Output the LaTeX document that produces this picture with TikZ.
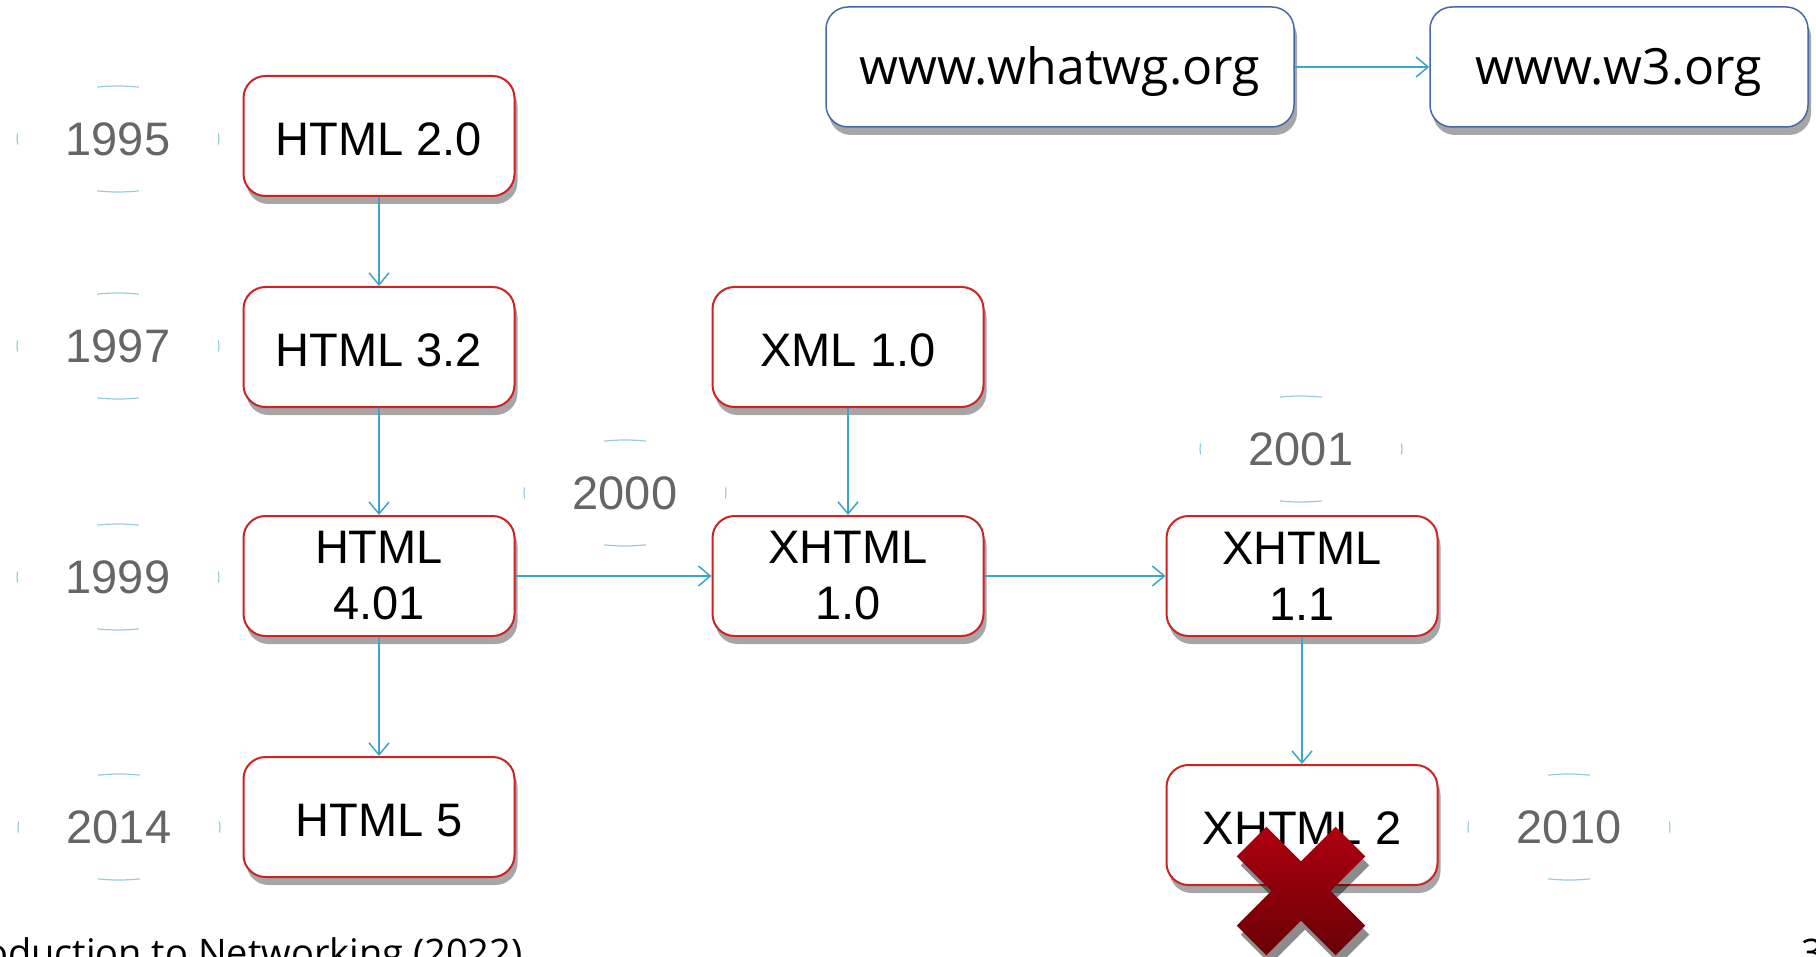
\documentclass[tikz,border=0pt]{standalone}
\usepackage{fontspec}
\setmainfont{Liberation Sans}
\newfontfamily\webfont{Open Sans}
\usetikzlibrary{arrows.meta,shadows}

\definecolor{boxred}{RGB}{205,35,35}
\definecolor{boxblue}{RGB}{70,105,165}
\definecolor{linkcyan}{RGB}{60,165,200}
\definecolor{yeargray}{RGB}{102,102,102}
\definecolor{ringcyan}{RGB}{150,205,222}
\definecolor{crosstop}{RGB}{175,0,15}
\definecolor{crossbot}{RGB}{105,0,5}
\definecolor{shadowgray}{RGB}{166,166,166}

\begin{document}
\begin{tikzpicture}[x=0.5pt,y=-0.5pt,
  verbox/.style={draw=boxred, line width=1pt, rounded corners=11pt, fill=white,
    minimum width=135.5pt, minimum height=60pt, inner sep=0pt, align=center,
    font=\fontsize{23.5}{28}\selectfont,
    drop shadow={shadow xshift=1.5pt, shadow yshift=-4pt, fill=shadowgray, opacity=1}},
  oneline/.style={verbox, text height=19.5pt},
  sitebox/.style={verbox, draw=boxblue, line width=0.75pt,
    text height=18pt, text depth=0pt,
    font=\webfont\fontsize{25}{30}\selectfont},
  year/.style={text=yeargray, font=\fontsize{23.5}{28}\selectfont, inner sep=0pt},
  link/.style={draw=linkcyan, line width=0.75pt, -{Straight Barb[length=6pt,width=10pt]}},
  ring/.style={draw=ringcyan, line width=0.6pt},
  footer/.style={font=\webfont\fontsize{19}{22}\selectfont, inner sep=0pt}]

\useasboundingbox (0,0) rectangle (1816,957);
\clip (0,0) rectangle (1816,957);

% version boxes
\node[oneline] (h20) at (379,136) {HTML 2.0};
\node[oneline] (h32) at (379,347) {HTML 3.2};
\node[verbox] (h401) at (379,576) {HTML\\4.01};
\node[oneline] (h5) at (379,817) {HTML 5};
\node[oneline] (xml) at (848,347) {XML 1.0};
\node[verbox] (xh10) at (848,576) {XHTML\\1.0};
\node[verbox] (xh11) at (1302,576) {XHTML\\1.1};
\node[oneline] (xh2) at (1302,825) {XHTML 2};

% standards bodies
\node[sitebox, minimum width=234pt] (whatwg) at (1060,67) {www.whatwg.org};
\node[sitebox, minimum width=189pt] (w3) at (1619,67) {www.w3.org};

% years
\node[year] (y95) at (118,139) {1995};
\node[year] (y97) at (118,346) {1997};
\node[year] (y99) at (118,577) {1999};
\node[year] (y14) at (119,827) {2014};
\node[year] (y00) at (625,493) {2000};
\node[year] (y01) at (1301,449) {2001};
\node[year] (y10) at (1569,827) {2010};

% faint ring marks around each year
\foreach \n in {y95,y97,y99,y14,y00,y01,y10} {
  \draw[ring] ([shift={(78:101 and 53)}]\n.center) arc[start angle=78, end angle=102, x radius=101, y radius=53];
  \draw[ring] ([shift={(258:101 and 53)}]\n.center) arc[start angle=258, end angle=282, x radius=101, y radius=53];
  \draw[ring] ([shift={(-6:101 and 53)}]\n.center) arc[start angle=-6, end angle=6, x radius=101, y radius=53];
  \draw[ring] ([shift={(174:101 and 53)}]\n.center) arc[start angle=174, end angle=186, x radius=101, y radius=53];
}

% connectors
\draw[link] (h20) -- (h32);
\draw[link] (h32) -- (h401);
\draw[link] (h401) -- (h5);
\draw[link] (h401) -- (xh10);
\draw[link] (xml) -- (xh10);
\draw[link] (xh10) -- (xh11);
\draw[link] (xh11) -- (xh2);
\draw[link] (whatwg) -- (w3);

% cancelled mark on XHTML 2
\begin{scope}[shift={(1301,891)}]
  \fill[black, opacity=0.45, shift={(4,9)}]
    (0,29.7) -- (34.6,64.3) -- (64.3,34.6) -- (29.7,0) -- (64.3,-34.6) -- (34.6,-64.3)
    -- (0,-29.7) -- (-34.6,-64.3) -- (-64.3,-34.6) -- (-29.7,0) -- (-64.3,34.6) -- (-34.6,64.3) -- cycle;
  \shade[top color=crosstop, bottom color=crossbot]
    (0,29.7) -- (34.6,64.3) -- (64.3,34.6) -- (29.7,0) -- (64.3,-34.6) -- (34.6,-64.3)
    -- (0,-29.7) -- (-34.6,-64.3) -- (-64.3,-34.6) -- (-29.7,0) -- (-64.3,34.6) -- (-34.6,64.3) -- cycle;
\end{scope}

% slide footer
\node[footer, anchor=base east] (foot) at (523,966) {Introduction to Networking (2022)};
\node[footer, anchor=base west] (page) at (1801,966) {3};
\end{tikzpicture}
\end{document}
